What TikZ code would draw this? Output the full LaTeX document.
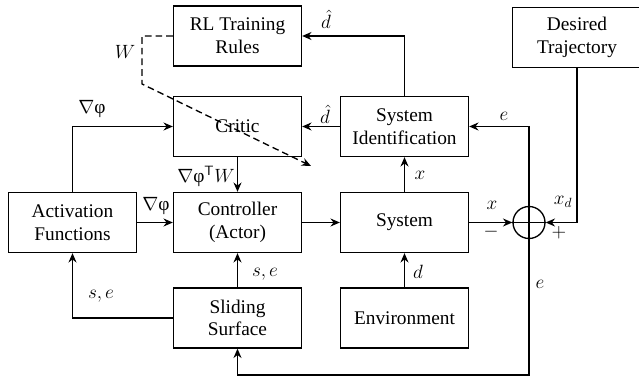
\documentclass[tikz,border=0pt]{standalone}
\usepackage{fontspec}
\setmainfont{Liberation Serif}
\usetikzlibrary{arrows.meta}
\begin{document}
\begin{tikzpicture}[x=0.75pt,y=-0.75pt,
  blk/.style={draw,line width=1pt,minimum width=96pt,minimum height=45pt,align=center,inner sep=1pt,font=\fontsize{14.5}{17}\selectfont},
  arr/.style={line width=1pt,-{Stealth[length=7pt,width=6pt]}},
  ln/.style={line width=1pt},
  lbl/.style={font=\fontsize{14.5}{17}\selectfont,inner sep=1pt}]
\useasboundingbox (0,0) rectangle (639,384);
\fill[white] (0,0) rectangle (639,384);
\node[blk] (rl) at (237.5,36) {RL Training\\Rules};
\node[blk] (critic) at (237.5,126.5) {Critic};
\node[blk] (sysid) at (404.5,126.5) {System\\Identification};
\node[blk,minimum width=97pt] (des) at (577,37.5) {Desired\\Trajectory};
\node[blk] (act) at (72.5,222.5) {Activation\\Functions};
\node[blk] (ctrl) at (237.5,222.5) {Controller\\(Actor)};
\node[blk] (sys) at (404.5,222.5) {System};
\node[blk] (slide) at (237.5,318) {Sliding\\Surface};
\node[blk] (env) at (404.5,318) {Environment};
\node[draw,circle,line width=1pt,minimum size=24pt,inner sep=0pt] (sum) at (529,222.5) {};
\draw[ln] (sum.north) -- (sum.south) (sum.west) -- (sum.east);
\coordinate (bot) at (237.5,375);
\coordinate (w1) at (142,36);
\coordinate (w2) at (142,84);
\coordinate (w3) at (311,166);
% connectors
\draw[arr] (des.south) |- (sum.east);
\draw[arr] (sys.east) -- (sum.west);
\draw[arr] (sum.south) |- (bot) -- (slide.south);
\draw[arr] (sum.north) |- (sysid.east);
\draw[arr] (sys.north) -- (sysid.south);
\draw[arr] (sysid.north) |- (rl.east);
\draw[arr] (sysid.west) -- (critic.east);
\draw[arr] (critic.south) -- (ctrl.north);
\draw[arr] (act.north) |- (critic.west);
\draw[arr] (act.east) -- (ctrl.west);
\draw[arr] (ctrl.east) -- (sys.west);
\draw[arr] (env.north) -- (sys.south);
\draw[arr] (slide.north) -- (ctrl.south);
\draw[arr] (slide.west) -| (act.south);
\draw[line width=1pt,dash pattern=on 5pt off 3pt,-{Stealth[length=7pt,width=6pt]}] (rl.west) -- (w1) -- (w2) -- (w3);
% labels
\node[lbl] (lW) at (125,52) {$W$};
\node[lbl] (lg1) at (92,109) {$\nabla$φ};
\node[lbl] (lg2) at (156,206) {$\nabla$φ};
\node[lbl] (lgw) at (206,176) {$\nabla$φ$^{\mathsf{T}}W$};
\node[lbl] (ld1) at (326,19) {$\hat{d}$};
\node[lbl] (ld2) at (325,114) {$\hat{d}$};
\node[lbl] (le1) at (504,116) {$e$};
\node[lbl] (lx1) at (420,175) {$x$};
\node[lbl] (lx2) at (492,205) {$x$};
\node[lbl] (lm) at (491,232) {$-$};
\node[lbl] (lxd) at (563,202) {$x_d$};
\node[lbl] (lp) at (559,233) {$+$};
\node[lbl] (le2) at (540,284) {$e$};
\node[lbl] (ld) at (418,272) {$d$};
\node[lbl] (lse1) at (265,274) {$s,e$};
\node[lbl] (lse2) at (101,296) {$s,e$};
\end{tikzpicture}
\end{document}
